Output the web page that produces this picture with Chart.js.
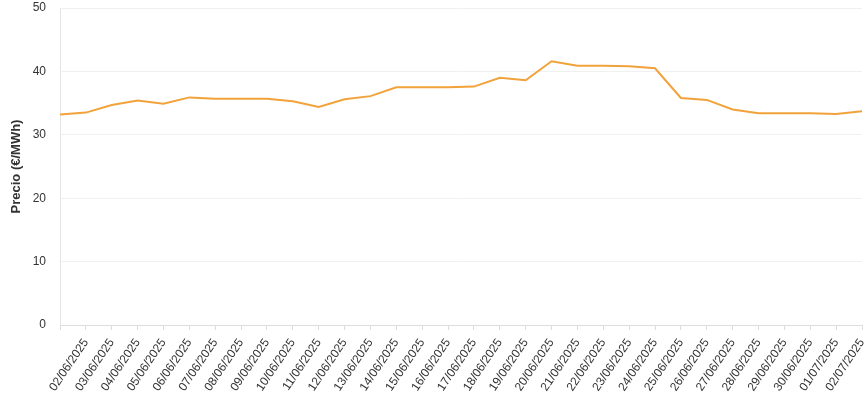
<!DOCTYPE html>
<html>
<head>
<meta charset="utf-8">
<script src="https://cdn.jsdelivr.net/npm/chart.js@4/dist/chart.umd.min.js"></script>
<style>
  html, body { margin: 0; padding: 0; background: #fff; }
  #wrap { width: 864px; height: 398px; }
</style>
</head>
<body>
<div id="wrap"><canvas id="grafico"></canvas></div>
<script>
const fechas = [
  "01/06/2025", "02/06/2025", "03/06/2025", "04/06/2025", "05/06/2025", "06/06/2025",
  "07/06/2025", "08/06/2025", "09/06/2025", "10/06/2025", "11/06/2025", "12/06/2025",
  "13/06/2025", "14/06/2025", "15/06/2025", "16/06/2025", "17/06/2025", "18/06/2025",
  "19/06/2025", "20/06/2025", "21/06/2025", "22/06/2025", "23/06/2025", "24/06/2025",
  "25/06/2025", "26/06/2025", "27/06/2025", "28/06/2025", "29/06/2025", "30/06/2025",
  "01/07/2025", "02/07/2025"
]

const precios = [
  33.2, 33.5, 34.7, 35.4, 34.9, 35.9, 35.7, 35.7, 35.7, 35.3, 34.4, 35.6,
  36.1, 37.5, 37.5, 37.5, 37.6, 39.0, 38.6, 41.6, 40.9, 40.9, 40.8, 40.5,
  35.8, 35.5, 34.0, 33.4, 33.4, 33.4, 33.3, 33.7
]

const yTicks = [0, 10, 20, 30, 40, 50]

const fuente = "'Liberation Sans', Arial, sans-serif"

new Chart(document.getElementById("grafico"), {
  type: 'line',
  data: {
    labels: fechas,
    datasets: [{
      label: 'Precio',
      data: precios,
      borderColor: '#f2a23a',
      borderWidth: 2,
      pointRadius: 0,
      tension: 0,
      fill: false
    }]
  },
  options: {
    responsive: true,
    maintainAspectRatio: false,
    animation: false,
    layout: { padding: 0 },
    plugins: {
      legend: { display: false },
      tooltip: { enabled: false }
    },
    scales: {
      x: {
        offset: false,
        afterFit: (axis) => {
          axis.height = 73
          axis.paddingLeft = 0
          axis.paddingRight = 2
        },
        grid: {
          drawOnChartArea: false,
          tickLength: 5,
          tickColor: '#dddddd',
          color: '#dddddd'
        },
        border: { color: '#dddddd' },
        ticks: {
          autoSkip: false,
          maxRotation: 56,
          minRotation: 56,
          padding: 6,
          color: '#333333',
          font: { family: fuente, size: 12 },
          callback: function (v, i) {
            return i == 0 ? '' : fechas[i]
          }
        }
      },
      y: {
        min: 0,
        max: 50,
        afterBuildTicks: (axis) => {
          axis.ticks = yTicks.map(v => ({ value: v }))
        },
        afterFit: (axis) => {
          axis.width = 60
          axis.paddingTop = 8
          axis.paddingBottom = 0
        },
        grid: { color: '#f0f0f0', tickLength: 8, tickColor: '#ffffff' },
        border: { color: '#e6e6e6' },
        ticks: {
          color: '#333333',
          padding: 6,
          font: { family: fuente, size: 12 }
        },
        title: {
          display: true,
          text: 'Precio (€/MWh)',
          color: '#333333',
          font: { family: fuente, size: 13, weight: 'bold' },
          padding: { top: 9, bottom: 4 }
        }
      }
    }
  }
})
</script>
</body>
</html>
